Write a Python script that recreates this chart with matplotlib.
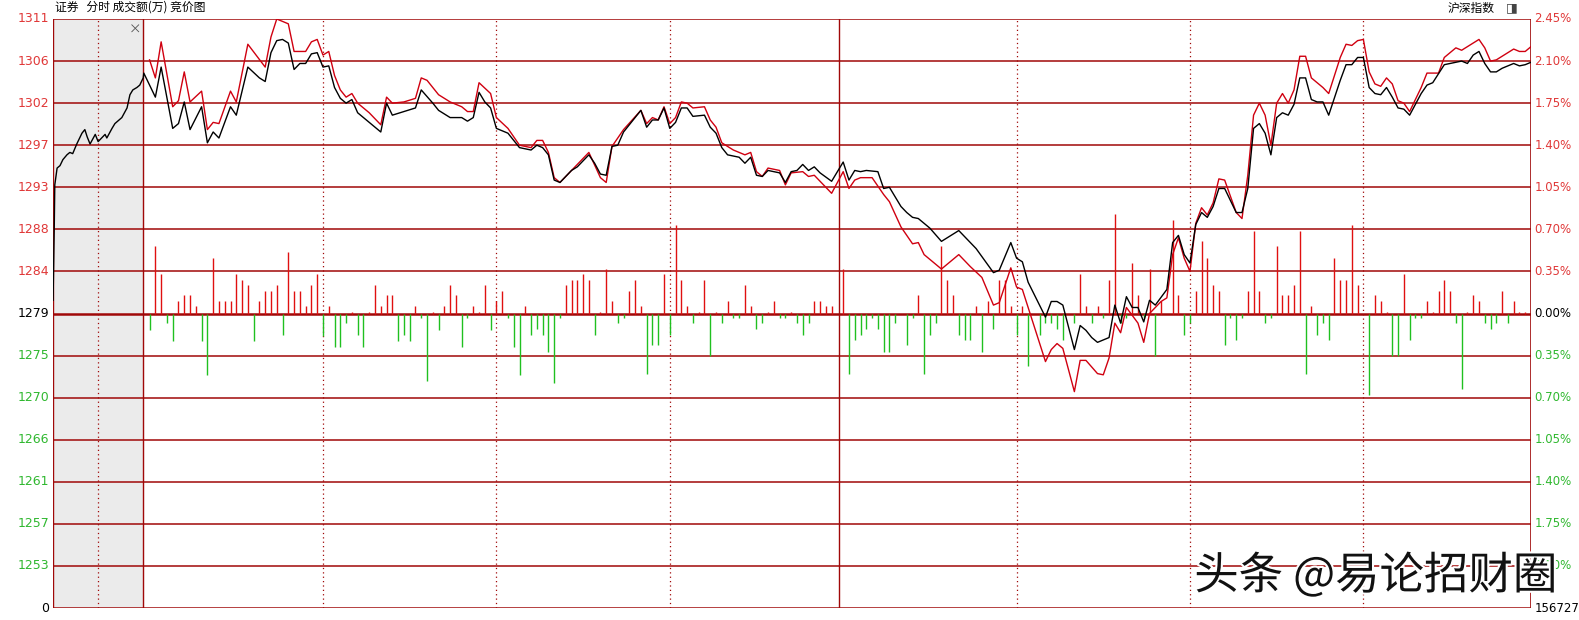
import matplotlib
matplotlib.use("Agg")
import matplotlib.pyplot as plt
import matplotlib.patheffects as pe

plt.rcParams['font.family'] = ['Noto Sans CJK SC', 'DejaVu Sans']

# ---- data (minutes from 9:30, percent change vs previous close) ----
auction_t = [-16.7, -16.5, -16.4, -16.0, -15.5, -15.0, -14.3, -13.8, -13.3, -12.6, -11.7, -11.2, -10.8,
             -10.3, -9.4, -8.9, -7.7, -7.4, -6.5, -6.0, -4.8, -3.9, -3.4, -2.9, -2.2, -1.7, -1.1]
auction_pct = [0.11, 0.69, 1.07, 1.21, 1.23, 1.28, 1.32, 1.34, 1.33, 1.41, 1.50, 1.53, 1.47,
               1.41, 1.49, 1.43, 1.49, 1.46, 1.54, 1.58, 1.63, 1.71, 1.82, 1.86, 1.88, 1.90, 1.96]

black_t = [-1, 1, 2, 4, 5, 6, 7, 9, 10, 11, 12, 14, 15, 17, 19, 20, 21, 22, 23, 24, 25, 26, 27, 28, 29, 30,
           31, 32, 33, 34, 35, 36, 38, 40, 41, 42, 44, 46, 47, 49, 50, 52, 54, 55, 56, 57, 58, 59, 60, 62,
           64, 66, 67, 68, 69, 70, 71, 73, 74, 76, 77, 78, 79, 80, 81, 82, 85, 86, 87, 88, 89, 90, 91, 92,
           93, 94, 96, 97, 98, 99, 100, 102, 103, 104, 105, 106, 107, 109, 110, 111, 112, 113, 114, 115,
           116, 118, 120, 121, 122, 123, 124, 126, 127, 128, 130, 131, 132, 133, 135, 137, 140, 142, 143,
           146, 147, 149, 150, 151, 152, 155, 156, 157, 158, 160, 161, 162, 163, 164, 166, 167, 168, 169,
           170, 171, 172, 173, 174, 176, 177, 178, 179, 180, 181, 182, 183, 184, 185, 186, 188, 189, 190,
           191, 192, 193, 194, 195, 196, 197, 198, 199, 200, 201, 202, 203, 204, 206, 207, 208, 209, 210,
           211, 212, 213, 214, 215, 216, 217, 218, 220, 221, 222, 224, 226, 227, 228, 229, 230, 231, 232,
           233, 234, 236, 237, 238, 239]
black_pct = [2.00, 1.80, 2.05, 1.54, 1.58, 1.76, 1.53, 1.72, 1.42, 1.51, 1.46, 1.72, 1.65, 2.05, 1.96, 1.93,
             2.17, 2.27, 2.28, 2.25, 2.03, 2.08, 2.08, 2.16, 2.17, 2.05, 2.06, 1.88, 1.79, 1.75, 1.78, 1.67,
             1.59, 1.51, 1.75, 1.65, 1.68, 1.71, 1.86, 1.75, 1.69, 1.63, 1.63, 1.60, 1.63, 1.84, 1.76, 1.71,
             1.54, 1.50, 1.38, 1.36, 1.40, 1.38, 1.32, 1.11, 1.09, 1.19, 1.22, 1.32, 1.25, 1.16, 1.15, 1.39,
             1.40, 1.51, 1.69, 1.55, 1.61, 1.61, 1.71, 1.54, 1.59, 1.71, 1.71, 1.64, 1.65, 1.55, 1.50, 1.38,
             1.32, 1.30, 1.25, 1.30, 1.15, 1.14, 1.19, 1.17, 1.09, 1.18, 1.19, 1.24, 1.19, 1.22, 1.17, 1.10,
             1.26, 1.11, 1.19, 1.18, 1.19, 1.18, 1.04, 1.05, 0.89, 0.84, 0.80, 0.79, 0.71, 0.60, 0.69, 0.59,
             0.54, 0.34, 0.36, 0.59, 0.46, 0.43, 0.26, -0.03, 0.10, 0.10, 0.07, -0.30, -0.10, -0.14, -0.20,
             -0.24, -0.20, 0.07, -0.08, 0.14, 0.05, 0.05, -0.07, 0.11, 0.07, 0.20, 0.59, 0.65, 0.49, 0.42,
             0.74, 0.84, 0.80, 0.89, 1.04, 1.04, 0.84, 0.84, 1.04, 1.54, 1.58, 1.50, 1.32, 1.63, 1.67, 1.65,
             1.74, 1.96, 1.96, 1.78, 1.76, 1.76, 1.65, 1.94, 2.07, 2.07, 2.13, 2.13, 1.88, 1.83, 1.82, 1.88,
             1.80, 1.71, 1.70, 1.65, 1.83, 1.90, 1.92, 2.07, 2.09, 2.10, 2.08, 2.15, 2.18, 2.08, 2.01, 2.01,
             2.04, 2.08, 2.06, 2.07, 2.09]

red_t = [0, 1, 2, 4, 5, 6, 7, 9, 10, 11, 12, 14, 15, 17, 20, 21, 22, 23, 24, 25, 27, 28, 29, 30, 31, 32, 33,
         34, 35, 36, 38, 40, 41, 42, 44, 46, 47, 48, 50, 52, 54, 55, 56, 57, 59, 60, 62, 64, 66, 67, 68, 69,
         70, 71, 73, 76, 78, 79, 80, 82, 85, 86, 87, 88, 89, 90, 91, 92, 93, 94, 96, 97, 98, 99, 101, 102,
         103, 104, 105, 106, 107, 109, 110, 111, 113, 114, 115, 117, 118, 120, 121, 122, 123, 125, 127, 128,
         130, 132, 133, 134, 135, 137, 140, 142, 144, 146, 147, 149, 150, 151, 152, 155, 156, 157, 158, 160,
         161, 162, 164, 165, 166, 167, 168, 169, 171, 172, 173, 175, 176, 177, 178, 179, 180, 181, 182, 183,
         184, 185, 186, 188, 189, 190, 191, 192, 193, 194, 195, 196, 197, 198, 199, 200, 201, 203, 204, 206,
         207, 208, 209, 210, 211, 212, 213, 214, 215, 216, 217, 218, 220, 221, 223, 224, 226, 227, 228, 230,
         231, 232, 233, 234, 236, 237, 238, 239]
red_pct = [2.11, 1.96, 2.26, 1.72, 1.77, 2.01, 1.76, 1.85, 1.53, 1.59, 1.58, 1.85, 1.76, 2.24, 2.05, 2.30,
           2.45, 2.43, 2.41, 2.18, 2.18, 2.26, 2.28, 2.15, 2.18, 1.98, 1.86, 1.80, 1.83, 1.75, 1.67, 1.57,
           1.80, 1.75, 1.76, 1.79, 1.96, 1.94, 1.82, 1.76, 1.72, 1.68, 1.68, 1.92, 1.83, 1.63, 1.54, 1.40,
           1.38, 1.44, 1.44, 1.34, 1.13, 1.09, 1.19, 1.34, 1.13, 1.09, 1.39, 1.53, 1.69, 1.58, 1.63, 1.61,
           1.72, 1.58, 1.63, 1.76, 1.75, 1.71, 1.72, 1.61, 1.55, 1.42, 1.36, 1.34, 1.32, 1.34, 1.18, 1.14,
           1.21, 1.19, 1.07, 1.17, 1.18, 1.14, 1.15, 1.05, 1.00, 1.18, 1.04, 1.11, 1.13, 1.13, 0.99, 0.93,
           0.72, 0.58, 0.59, 0.49, 0.45, 0.37, 0.49, 0.39, 0.30, 0.07, 0.09, 0.38, 0.22, 0.20, 0.05, -0.40,
           -0.30, -0.25, -0.29, -0.65, -0.39, -0.39, -0.50, -0.51, -0.37, -0.08, -0.16, 0.05, -0.08, -0.24,
           0.00, 0.10, 0.13, 0.49, 0.63, 0.46, 0.35, 0.75, 0.88, 0.82, 0.92, 1.12, 1.11, 0.84, 0.79, 1.15,
           1.65, 1.75, 1.65, 1.40, 1.75, 1.83, 1.75, 1.86, 2.14, 2.14, 1.96, 1.88, 1.83, 2.13, 2.24, 2.23,
           2.27, 2.28, 2.01, 1.91, 1.89, 1.96, 1.91, 1.77, 1.75, 1.68, 1.88, 2.00, 2.00, 2.13, 2.21, 2.19,
           2.22, 2.28, 2.21, 2.10, 2.11, 2.14, 2.20, 2.18, 2.18, 2.22]

up_t = [1, 2, 5, 6, 7, 8, 11, 12, 13, 14, 15, 16, 17, 19, 20, 21, 22, 24, 25, 26, 27, 28, 29, 31, 35, 38, 39,
        40, 41, 42, 46, 49, 51, 52, 53, 56, 57, 58, 60, 61, 65, 72, 73, 74, 75, 76, 78, 79, 80, 83, 84, 85,
        89, 91, 92, 93, 95, 96, 98, 100, 103, 104, 107, 108, 111, 115, 116, 117, 118, 120, 133, 137, 138,
        139, 143, 145, 147, 148, 149, 151, 161, 162, 164, 166, 167, 170, 171, 173, 175, 177, 178, 181, 182,
        183, 184, 185, 190, 191, 192, 195, 196, 197, 198, 199, 201, 205, 206, 207, 208, 209, 212, 213, 214,
        217, 221, 222, 223, 224, 225, 228, 229, 230, 234, 236, 237, 238]
up_v = [0.56, 0.33, 0.10, 0.15, 0.15, 0.06, 0.46, 0.10, 0.10, 0.10, 0.33, 0.28, 0.24, 0.10, 0.19, 0.19, 0.24,
        0.51, 0.19, 0.19, 0.06, 0.24, 0.33, 0.06, 0.01, 0.01, 0.24, 0.06, 0.15, 0.15, 0.06, 0.01, 0.06, 0.24,
        0.15, 0.06, 0.01, 0.24, 0.10, 0.19, 0.06, 0.24, 0.28, 0.28, 0.33, 0.28, 0.01, 0.37, 0.10, 0.19, 0.28,
        0.06, 0.33, 0.74, 0.28, 0.06, 0.01, 0.28, 0.01, 0.10, 0.24, 0.06, 0.01, 0.10, 0.01, 0.10, 0.10, 0.06,
        0.06, 0.37, 0.15, 0.56, 0.28, 0.15, 0.06, 0.10, 0.28, 0.28, 0.06, 0.06, 0.33, 0.06, 0.06, 0.28, 0.83,
        0.42, 0.15, 0.37, 0.10, 0.78, 0.15, 0.19, 0.60, 0.46, 0.24, 0.19, 0.19, 0.69, 0.19, 0.56, 0.15, 0.15,
        0.24, 0.69, 0.06, 0.46, 0.28, 0.28, 0.74, 0.24, 0.15, 0.10, 0.01, 0.33, 0.10, 0.01, 0.19, 0.28, 0.19,
        0.01, 0.15, 0.10, 0.19, 0.10, 0.01, 0.01]

down_t = [0, 3, 4, 9, 10, 18, 23, 30, 32, 33, 34, 36, 37, 43, 44, 45, 47, 48, 50, 54, 55, 59, 62, 63, 64, 66,
          67, 68, 69, 70, 71, 77, 81, 82, 86, 87, 88, 90, 94, 97, 99, 101, 102, 105, 106, 109, 110, 112, 113,
          114, 121, 122, 123, 124, 125, 126, 127, 128, 129, 131, 132, 134, 135, 136, 140, 141, 142, 144, 146,
          150, 152, 154, 155, 156, 157, 158, 160, 163, 165, 168, 169, 172, 174, 179, 180, 186, 187, 188, 189,
          193, 194, 200, 202, 203, 204, 211, 215, 216, 218, 219, 220, 226, 227, 231, 232, 233, 235]
down_v = [0.14, 0.08, 0.23, 0.23, 0.51, 0.23, 0.18, 0.19, 0.28, 0.28, 0.08, 0.18, 0.28, 0.23, 0.18, 0.23, 0.04,
          0.56, 0.14, 0.28, 0.04, 0.14, 0.04, 0.28, 0.51, 0.18, 0.13, 0.18, 0.32, 0.58, 0.04, 0.18, 0.08, 0.04,
          0.50, 0.26, 0.26, 0.18, 0.08, 0.35, 0.08, 0.04, 0.04, 0.13, 0.08, 0.04, 0.04, 0.08, 0.18, 0.08, 0.50,
          0.22, 0.18, 0.13, 0.04, 0.13, 0.32, 0.32, 0.08, 0.26, 0.04, 0.50, 0.18, 0.08, 0.18, 0.22, 0.22, 0.32,
          0.13, 0.18, 0.44, 0.18, 0.08, 0.08, 0.13, 0.22, 0.08, 0.08, 0.04, 0.08, 0.04, 0.04, 0.35, 0.18, 0.08,
          0.26, 0.04, 0.22, 0.04, 0.08, 0.04, 0.50, 0.18, 0.08, 0.22, 0.68, 0.35, 0.35, 0.22, 0.04, 0.04, 0.08,
          0.63, 0.08, 0.13, 0.08, 0.08]

left_labels = ['1311', '1306', '1302', '1297', '1293', '1288', '1284', '1279',
               '1275', '1270', '1266', '1261', '1257', '1253', '0']
right_labels = ['2.45%', '2.10%', '1.75%', '1.40%', '1.05%', '0.70%', '0.35%', '0.00%',
                '0.35%', '0.70%', '1.05%', '1.40%', '1.75%', '2.10%', '156727']
grid_pct = [2.45, 2.10, 1.75, 1.40, 1.05, 0.70, 0.35, 0.0,
            -0.35, -0.70, -1.05, -1.40, -1.75, -2.10, -2.45]

# ---- figure ----
W, H = 1579, 620
fig = plt.figure(figsize=(W / 100, H / 100), dpi=100)
fig.patch.set_facecolor('white')
ax = fig.add_axes([53 / W, (H - 608) / H, (1531 - 53) / W, (608 - 19) / H])
ax.set_xlim(-16.71, 239.0)
ax.set_ylim(-2.45, 2.45)
ax.axis('off')

GRID = '#a00808'
ax.axvspan(-16.71, -1.14, color='#ebebeb', zorder=0)
for g in grid_pct:
    lw = 1.8 if g in (0.0, -2.45) else 1.1
    ax.axhline(g, color=GRID, lw=lw, zorder=1)
for v in [-8.93, 30, 60, 90, 150, 180, 210]:
    ax.axvline(v, color=GRID, lw=0.9, ls=(0, (1, 2.5)), zorder=1)
ax.axvline(-1.14, color=GRID, lw=1.0, zorder=1)
ax.axvline(119.3, color=GRID, lw=1.0, zorder=1)
ax.axvline(239.0, color=GRID, lw=1.2, zorder=1)
ax.axvline(-16.71, color=GRID, lw=1.0, zorder=1)

ax.vlines(up_t, 0, up_v, color='#e01010', lw=1.0, zorder=2)
ax.vlines(down_t, [-v for v in down_v], 0, color='#20c020', lw=1.0, zorder=2)

ax.plot(red_t, red_pct, color='#d00010', lw=1.0, zorder=3)
ax.plot(auction_t + black_t, auction_pct + black_pct, color='black', lw=1.0, zorder=4)

ax.text(-2.6, 2.36, '×', color='#555555', fontsize=9, ha='center', va='center')

# axis labels
for lab, g in zip(left_labels, grid_pct):
    c = '#e03838' if g > 0 else ('#30b830' if g > -2.4 else 'black')
    if g == 0.0:
        c = 'black'
    ax.text(-17.3, g, lab, color=c, fontsize=9, ha='right', va='center',
            family=['DejaVu Sans'])
for lab, g in zip(right_labels, grid_pct):
    c = '#e03838' if g > 0 else ('#30b830' if g > -2.4 else 'black')
    if g == 0.0:
        c = 'black'
    ax.text(239.6, g, lab, color=c, fontsize=8.5, ha='left', va='center',
            family=['DejaVu Sans'])

fig.text(55 / W, 1 - 7 / H, '证券   分时 成交额(万) 竞价图', fontsize=8.5, ha='left', va='center')
fig.text(1495 / W, 1 - 8 / H, '沪深指数', fontsize=8.5, ha='right', va='center')
fig.text(1512 / W, 1 - 8 / H, '◨', fontsize=9, ha='center', va='center', color='#444444',
         family=['DejaVu Sans'])

fig.text(1376 / W, 1 - 576 / H, '头条 @易论招财圈', fontsize=32, ha='center', va='center',
         color='#111111', path_effects=[pe.withStroke(linewidth=3, foreground='white')])

fig.savefig('out.png', dpi=100, facecolor='white')
